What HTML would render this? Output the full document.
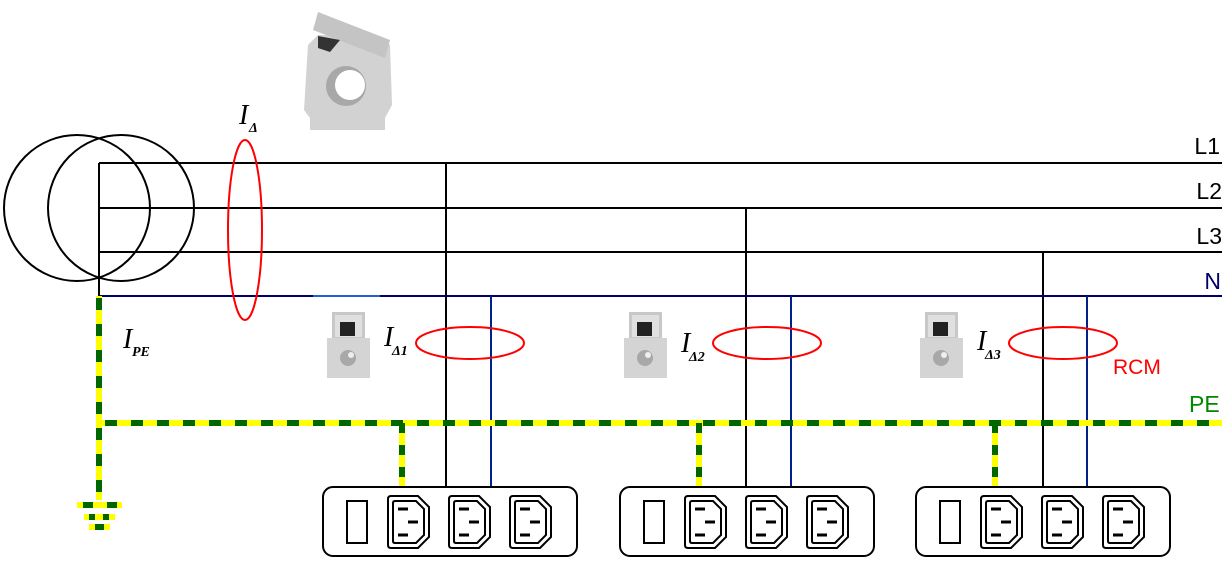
<!DOCTYPE html>
<html><head><meta charset="utf-8"><style>html,body{margin:0;padding:0;background:#fff}svg{display:block}</style></head>
<body>
<svg width="1232" height="569" viewBox="0 0 1232 569" xmlns="http://www.w3.org/2000/svg" font-family="Liberation Serif, serif">
<defs>
<g id="outlet">
 <path d="M3,0 H30 L41,11 V41 L30,52 H3 Q0,52 0,49 V3 Q0,0 3,0 Z" fill="#fff" stroke="#000" stroke-width="2"/>
 <path d="M7,5 H28 L36,13 V39 L28,47 H7 Q5,47 5,45 V7 Q5,5 7,5 Z" fill="none" stroke="#000" stroke-width="2"/>
 <line x1="10" y1="13" x2="20" y2="13" stroke="#000" stroke-width="3"/>
 <line x1="20" y1="26" x2="30" y2="26" stroke="#000" stroke-width="3"/>
 <line x1="10" y1="39" x2="20" y2="39" stroke="#000" stroke-width="3"/>
</g>
<g id="sensor">
 <rect x="5" y="0" width="33" height="28" fill="#c8c8c8"/>
 <rect x="8" y="3" width="27" height="22" fill="#e0e0e0"/>
 <rect x="13" y="10" width="15" height="14" fill="#222"/>
 <rect x="0" y="26" width="43" height="40" fill="#d4d4d4"/>
 <circle cx="21" cy="46" r="8" fill="#a8a8a8"/>
 <circle cx="24" cy="43" r="3" fill="#eee"/>
</g>
<g id="grp">
 <line x1="402" y1="423" x2="402" y2="487" stroke="#ff0" stroke-width="6"/>
 <line x1="402" y1="423" x2="402" y2="487" stroke="#060" stroke-width="6" stroke-dasharray="10,12"/>
 <rect x="323" y="487" width="254" height="69" rx="10" fill="#fff" stroke="#000" stroke-width="2"/>
 <rect x="347" y="501" width="20" height="42" fill="#fff" stroke="#000" stroke-width="2"/>
 <use href="#outlet" x="388" y="496"/>
 <use href="#outlet" x="449" y="496"/>
 <use href="#outlet" x="510" y="496"/>
 <use href="#sensor" x="327" y="312"/>
 <ellipse cx="470" cy="343" rx="54" ry="16" fill="none" stroke="#f00" stroke-width="2"/>
</g>
</defs>

<circle cx="77" cy="208" r="73" fill="none" stroke="#000" stroke-width="2"/>
<circle cx="121" cy="208" r="73" fill="none" stroke="#000" stroke-width="2"/>

<g stroke="#000" stroke-width="2">
<line x1="99" y1="163" x2="99" y2="296"/>
<line x1="99" y1="163" x2="1222" y2="163"/>
<line x1="99" y1="208" x2="1222" y2="208"/>
<line x1="99" y1="252" x2="1222" y2="252"/>
<line x1="446" y1="163" x2="446" y2="487"/>
<line x1="746" y1="208" x2="746" y2="487"/>
<line x1="1043" y1="252" x2="1043" y2="487"/>
</g>
<line x1="99" y1="296" x2="1222" y2="296" stroke="#00006a" stroke-width="2"/>
<line x1="313" y1="296" x2="380" y2="296" stroke="#2060d0" stroke-width="2"/>
<g stroke="#00208a" stroke-width="2">
<line x1="491" y1="296" x2="491" y2="487"/>
<line x1="791" y1="296" x2="791" y2="487"/>
<line x1="1087" y1="296" x2="1087" y2="487"/>
</g>

<line x1="99" y1="423" x2="1222" y2="423" stroke="#ff0" stroke-width="6"/>
<line x1="105" y1="423" x2="1222" y2="423" stroke="#060" stroke-width="6" stroke-dasharray="12,14"/>
<line x1="99" y1="296" x2="99" y2="500" stroke="#ff0" stroke-width="6"/>
<line x1="99" y1="298" x2="99" y2="500" stroke="#060" stroke-width="6" stroke-dasharray="12,14"/>
<line x1="77" y1="505" x2="122" y2="505" stroke="#ff0" stroke-width="6"/>
<line x1="83" y1="505" x2="120" y2="505" stroke="#060" stroke-width="6" stroke-dasharray="10,14"/>
<line x1="84" y1="517" x2="115" y2="517" stroke="#ff0" stroke-width="6"/>
<line x1="89" y1="517" x2="110" y2="517" stroke="#060" stroke-width="6" stroke-dasharray="6,8"/>
<line x1="89" y1="527" x2="110" y2="527" stroke="#ff0" stroke-width="6"/>
<line x1="95" y1="527" x2="104" y2="527" stroke="#060" stroke-width="6"/>

<ellipse cx="245" cy="230" rx="17" ry="90" fill="none" stroke="#f00" stroke-width="2"/>

<g>
<polygon points="308,45 318,35 380,36 390,45 392,105 385,118 385,130 310,130 310,118 304,110" fill="#d2d2d2"/>
<polygon points="318,12 390,40 385,58 313,30" fill="#c4c4c4"/>
<polygon points="318,36 340,40 330,52 318,48" fill="#333"/>
<circle cx="346" cy="86" r="20" fill="#a8a8a8"/>
<circle cx="350" cy="85" r="15" fill="#fff"/>
</g>

<use href="#grp"/>
<use href="#grp" x="297"/>
<use href="#grp" x="593"/>

<g font-style="italic" font-size="28">
<text x="239" y="124">I</text><text x="249" y="132" font-size="14" font-weight="bold">Δ</text>
<text x="123" y="348">I</text><text x="132" y="356" font-size="14" font-weight="bold">PE</text>
<text x="384" y="346">I</text><text x="392" y="355" font-size="14" font-weight="bold">Δ1</text>
<text x="681" y="352">I</text><text x="689" y="361" font-size="14" font-weight="bold">Δ2</text>
<text x="977" y="350">I</text><text x="985" y="359" font-size="14" font-weight="bold">Δ3</text>
</g>
<g font-family="Liberation Sans, sans-serif" font-size="23">
<text x="1220" y="154" text-anchor="end">L1</text>
<text x="1222" y="199" text-anchor="end">L2</text>
<text x="1222" y="244" text-anchor="end">L3</text>
<text x="1221" y="289" text-anchor="end" fill="#00006a">N</text>
<text x="1113" y="374" fill="#f00" font-size="21">RCM</text>
<text x="1189" y="412" fill="#080">PE</text>
</g>
</svg>
</body></html>
